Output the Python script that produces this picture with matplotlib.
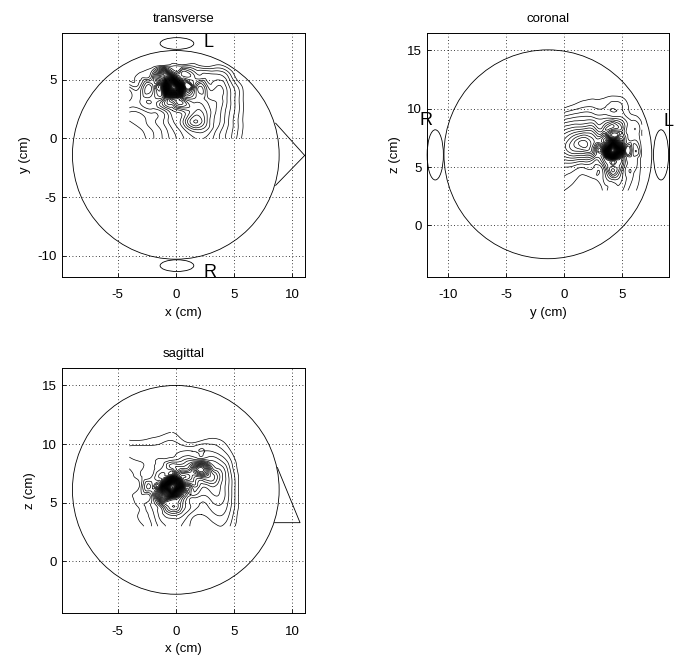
"""Head field maps: transverse, coronal and sagittal sections"""

import numpy as np
import matplotlib
matplotlib.use('Agg')
import matplotlib.pyplot as plt
import matplotlib.tri as mtri
from matplotlib.patches import Circle, Ellipse

plt.rcParams['font.family'] = ['Liberation Sans', 'DejaVu Sans']
plt.rcParams['axes.unicode_minus'] = False

# contour levels shared by all three maps
levels = np.arange(5, 160, 3.5)

# transverse section, x across, y up
tr_x = [-4, -3, -2, -1, -0.3, 0.6, 1.7, 2.7, 3.6, 4.5, 5.3, 6.0]
tr_y = [0, 0.8, 1.5, 2.4, 3.3, 4.4, 5.3, 6.2, 7.0]
tr_field = [
    [0, 3, 8, 13, 17, 22, 26, 25, 20, 14, 8, 2],
    [2, 5, 9, 14, 19, 25, 34, 30, 22, 15, 9, 3],
    [5, 7, 11, 16, 22, 29, 44, 33, 24, 16, 9, 3],
    [10, 11, 14, 19, 26, 31, 36, 32, 25, 17, 10, 3],
    [16, 16, 18, 24, 42, 38, 31, 28, 25, 18, 10, 3],
    [12, 14, 20, 44, 150, 36, 26, 24, 23, 17, 9, 2],
    [2, 7, 15, 50, 44, 22, 18, 17, 17, 12, 3, 0],
    [0, 0, 3, 7, 8, 8, 7, 4, 6, 3, 0, 0],
    [0, 0, 0, 0, 0, 0, 0, 0, 0, 0, 0, 0],
]

# coronal section, y across, z up
co_y = [0, 0.8, 1.7, 2.6, 3.4, 4.2, 5.1, 5.9, 6.7]
co_z = [3.0, 4.0, 5.0, 5.8, 6.4, 7.2, 8.2, 9.2, 10.2, 11.2]
co_field = [
    [12, 10, 9, 10, 13, 18, 15, 10, 6],
    [15, 13, 11, 12, 16, 24, 18, 12, 7],
    [19, 18, 16, 15, 20, 34, 21, 13, 7],
    [28, 30, 29, 24, 30, 60, 24, 14, 7],
    [34, 40, 42, 32, 38, 150, 26, 14, 7],
    [34, 42, 48, 40, 44, 55, 24, 13, 6],
    [26, 29, 31, 29, 27, 24, 18, 11, 5],
    [14, 16, 17, 16, 15, 15, 12, 7, 3],
    [4, 6, 8, 8, 8, 9, 8, 3, 0],
    [0, 2, 3, 3, 3, 4, 3, 0, 0],
]

# sagittal section, x across, z up
sa_x = [-4, -3, -2, -1.2, -0.3, 0.6, 1.4, 2.2, 3.0, 3.8, 4.6, 5.4, 6.2]
sa_z = [3.0, 4.0, 4.8, 5.6, 6.4, 7.2, 7.9, 8.6, 9.4, 10.2, 11.0]
sa_field = [
    [0, 4, 9, 14, 17, 15, 11, 9, 10, 12, 9, 3, 0],
    [1, 6, 11, 18, 24, 20, 14, 12, 14, 16, 12, 4, 0],
    [2, 7, 13, 26, 36, 26, 18, 15, 17, 19, 14, 5, 0],
    [3, 8, 15, 55, 70, 34, 22, 19, 21, 22, 15, 5, 0],
    [3, 8, 15, 34, 150, 44, 28, 24, 26, 23, 15, 5, 0],
    [4, 8, 13, 20, 38, 48, 40, 38, 36, 26, 15, 5, 0],
    [5, 8, 11, 16, 22, 30, 40, 60, 32, 22, 13, 4, 0],
    [7, 9, 11, 13, 16, 19, 22, 22, 19, 16, 10, 3, 0],
    [10, 11, 10, 10, 11, 12, 12, 12, 12, 10, 6, 1, 0],
    [6, 6, 7, 8, 9, 6, 4, 6, 7, 6, 3, 0, 0],
    [1, 1, 2, 3, 5, 2, 1, 2, 2, 1, 0, 0, 0],
]

# head outline: circle centre and radius in each view
head_tr = (0.0, -1.4, 8.9)
head_co = (-1.4, 6.1, 8.95)
head_sa = (0.0, 6.1, 8.9)

# nose outlines
nose_tr_x = [8.6, 11.1, 8.6]
nose_tr_y = [1.3, -1.45, -4.0]
nose_sa_x = [8.75, 10.7, 8.5]
nose_sa_z = [8.0, 3.3, 3.3]

# ears: (centre u, centre v, width, height)
ears_tr = [(0.1, 8.1, 2.9, 1.0), (0.1, -10.85, 2.9, 1.0)]
ears_co = [(-11.1, 6.05, 1.4, 4.3), (8.35, 6.05, 1.3, 4.3)]

LW = 0.6


def setup(ax, title, xlabel, ylabel, xlim, ylim, xticks, yticks):
    ax.set_xlim(*xlim)
    ax.set_ylim(*ylim)
    ax.set_xticks(xticks)
    ax.set_yticks(yticks)
    ax.set_title(title, fontsize=9.5, pad=8)
    ax.set_xlabel(xlabel, fontsize=9.5, labelpad=4)
    ax.set_ylabel(ylabel, fontsize=9.5, labelpad=4)
    ax.tick_params(direction='in', length=3, width=0.6, labelsize=9.5)
    ax.tick_params(axis='x', pad=9)
    ax.tick_params(axis='y', pad=4)
    ax.grid(True, color='k', linestyle=(0, (1, 3)), linewidth=0.6)
    for s in ax.spines.values():
        s.set_linewidth(0.7)


def head(ax, c):
    ax.add_patch(Circle((c[0], c[1]), c[2], fill=False, color='k', lw=LW))


def ears(ax, items):
    for u, v, w, h in items:
        ax.add_patch(Ellipse((u, v), w, h, fill=False, color='k', lw=LW,
                             clip_on=False))


def field(ax, xs, ys, vals):
    gx, gy = np.meshgrid(xs, ys)
    tri = mtri.Triangulation(gx.ravel(), gy.ravel())
    zs = np.array(vals, dtype=float).ravel()
    interp = mtri.CubicTriInterpolator(tri, zs, kind='min_E')
    fine, fz = mtri.UniformTriRefiner(tri).refine_field(zs, interp, subdiv=3)
    ax.tricontour(fine, fz, levels=levels, colors='k', linewidths=0.5)


fig = plt.figure(figsize=(6.78, 6.59), dpi=100)

# transverse
ax1 = fig.add_axes([0.0914, 0.580, 0.358, 0.370])
setup(ax1, 'transverse', 'x (cm)', 'y (cm)', (-9.8, 11.1), (-11.8, 9.0),
      [-5, 0, 5, 10], [-10, -5, 0, 5])
head(ax1, head_tr)
ears(ax1, ears_tr)
ax1.plot(nose_tr_x, nose_tr_y, color='k', lw=LW, clip_on=False)
field(ax1, tr_x, tr_y, tr_field)
ax1.text(2.4, 7.8, 'L', fontsize=13, clip_on=False)
ax1.text(2.4, -11.85, 'R', fontsize=13, clip_on=False)

# coronal
ax2 = fig.add_axes([0.630, 0.580, 0.357, 0.370])
setup(ax2, 'coronal', 'y (cm)', 'z (cm)', (-11.8, 9.05), (-4.4, 16.5),
      [-10, -5, 0, 5], [0, 5, 10, 15])
head(ax2, head_co)
ears(ax2, ears_co)
field(ax2, co_y, co_z, co_field)
ax2.text(-12.5, 8.6, 'R', fontsize=13, clip_on=False)
ax2.text(8.6, 8.5, 'L', fontsize=13, clip_on=False)

# sagittal
ax3 = fig.add_axes([0.0914, 0.0698, 0.358, 0.372])
setup(ax3, 'sagittal', 'x (cm)', 'z (cm)', (-9.8, 11.1), (-4.4, 16.5),
      [-5, 0, 5, 10], [0, 5, 10, 15])
head(ax3, head_sa)
ax3.plot(nose_sa_x, nose_sa_z, color='k', lw=LW, clip_on=False)
field(ax3, sa_x, sa_z, sa_field)

fig.savefig('out.png', dpi=100)
